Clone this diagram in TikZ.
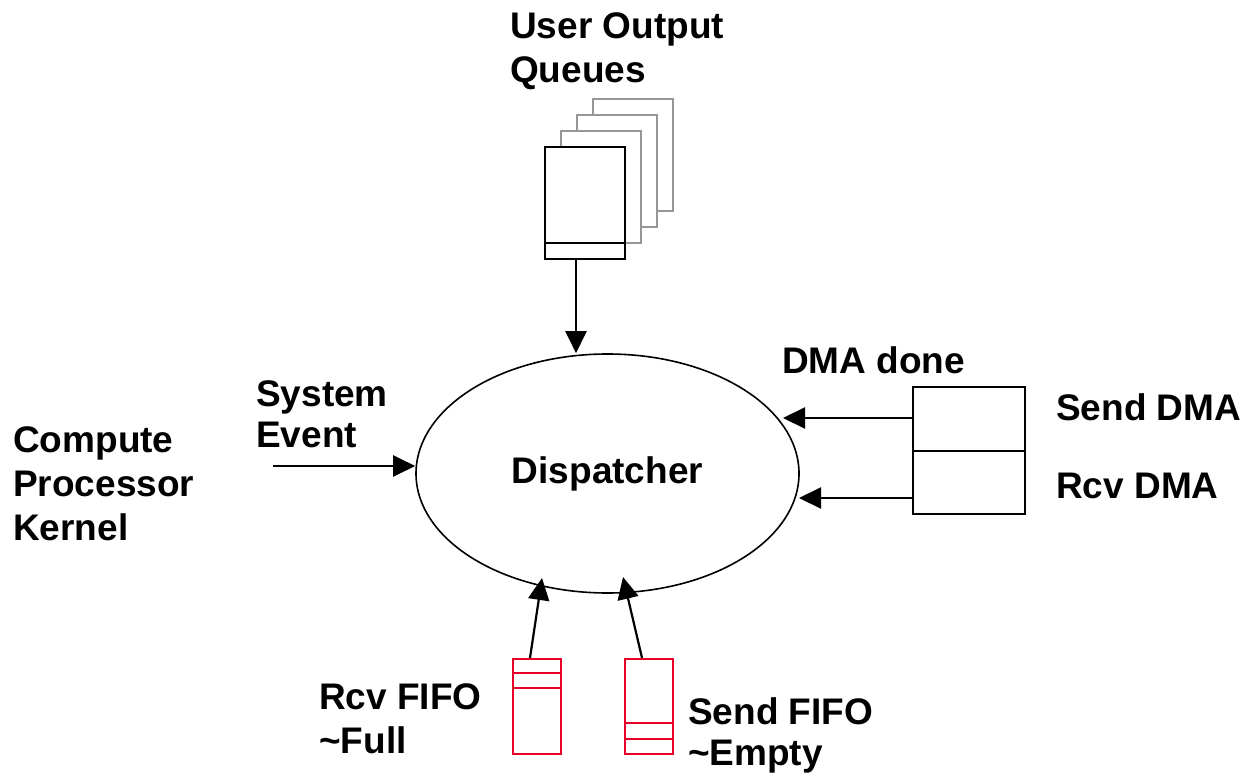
\documentclass[tikz,border=0pt]{standalone}
\usepackage{fontspec}
\setmainfont{Liberation Sans}
\usetikzlibrary{arrows.meta,shapes.geometric}
\definecolor{fifored}{RGB}{232,0,40}
\definecolor{qgray}{RGB}{150,150,150}
\tikzset{
  lbl/.style={inner sep=0pt, align=left, font=\fontsize{37}{44}\selectfont\bfseries},
  tightlbl/.style={inner sep=0pt, align=left, font=\fontsize{37}{41}\selectfont\bfseries},
  arr/.style={line width=2.2pt, -{Triangle[length=22pt,width=21pt]}},
  qback/.style={draw=qgray, fill=white, line width=2pt, minimum width=80pt, minimum height=112pt, inner sep=0pt},
  qfront/.style={draw=black, fill=white, line width=2.4pt, minimum width=80pt, minimum height=112pt, inner sep=0pt},
  dmabox/.style={draw=black, line width=2.2pt, minimum width=112pt, minimum height=63.5pt, inner sep=0pt},
  fifobox/.style={draw=fifored, line width=2.2pt, minimum width=48pt, minimum height=95pt, inner sep=0pt},
}
\begin{document}
\begin{tikzpicture}[x=1pt,y=-1pt]
\useasboundingbox (0,0) rectangle (1249,775);

% dispatcher
\node[draw, line width=1.6pt, ellipse, minimum width=383pt, minimum height=239pt, inner sep=0pt,
      font=\fontsize{37}{44}\selectfont\bfseries] (disp) at (607.5,473.5) {Dispatcher};

% stacked user output queues, back to front
\node[qback]  (q3) at (633,155) {};
\node[qback]  (q2) at (617,171) {};
\node[qback]  (q1) at (601,187) {};
\node[qfront] (q0) at (585,203) {};
\draw[line width=2.4pt] ([yshift=17pt]q0.south west) -- ([yshift=17pt]q0.south east);
\node[lbl, anchor=north west] (lq) at (510,12) {User Output\\Queues};
\draw[arr] ([xshift=-9pt]q0.south) -- ([xshift=-9pt]q0.south |- disp.north);

% DMA engines
\node[dmabox] (sdma) at (969,419) {};
\node[dmabox] (rdma) at (969,482.5) {};
\coordinate (tsd) at (783,418);
\coordinate (trd) at (799,498);
\draw[arr] (tsd -| sdma.west) -- (tsd);
\draw[arr] (trd -| rdma.west) -- (trd);
\node[lbl, anchor=base west] (ldone) at (782,373) {DMA done};
\node[lbl, anchor=base west] (lsdma) at (1056,420) {Send DMA};
\node[lbl, anchor=base west] (lrdma) at (1056,498) {Rcv DMA};

% system event input
\coordinate (sev) at (273,466);
\draw[arr] (sev) -- (sev -| disp.west);
\node[tightlbl, anchor=north west] (lsev) at (256,380) {System\\Event};
\node[lbl, anchor=north west] (lcpk) at (13,426) {Compute\\Processor\\Kernel};

% network FIFOs
\node[fifobox] (rfifo) at (537,706.5) {};
\node[fifobox] (sfifo) at (649,706.5) {};
\draw[fifored, line width=2.2pt] ([yshift=-15pt]rfifo.north west) -- ([yshift=-15pt]rfifo.north east);
\draw[fifored, line width=2.2pt] ([yshift=-30pt]rfifo.north west) -- ([yshift=-30pt]rfifo.north east);
\draw[fifored, line width=2.2pt] ([yshift=32pt]sfifo.south west) -- ([yshift=32pt]sfifo.south east);
\draw[fifored, line width=2.2pt] ([yshift=16pt]sfifo.south west) -- ([yshift=16pt]sfifo.south east);
\coordinate (trf) at (542,578);
\coordinate (tsf) at (623,577);
\draw[arr] ([xshift=-7pt]rfifo.north) -- (trf);
\draw[arr] ([xshift=-7pt]sfifo.north) -- (tsf);
\node[lbl, anchor=north west] (lrf) at (319,683) {Rcv FIFO\\\textasciitilde Full};
\node[tightlbl, anchor=north west] (lsf) at (688,697) {Send FIFO\\\textasciitilde Empty};
\end{tikzpicture}
\end{document}
